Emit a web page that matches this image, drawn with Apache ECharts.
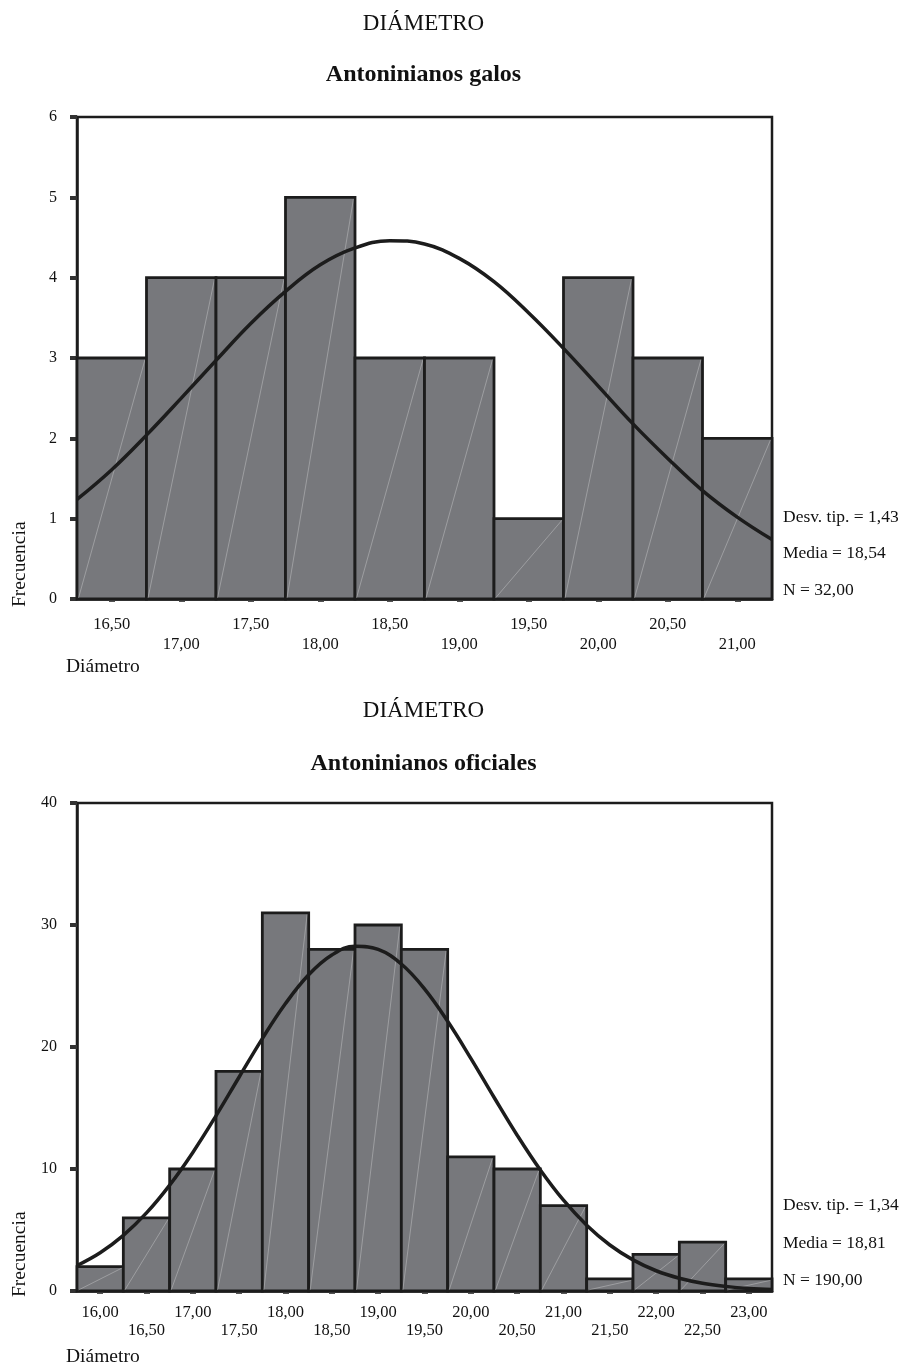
<!DOCTYPE html>
<html>
<head>
<meta charset="utf-8">
<script src="https://cdn.jsdelivr.net/npm/echarts@6/dist/echarts.min.js"></script>
<style>
  html, body { margin: 0; padding: 0; background: #fff; }
  #chart { width: 904px; height: 1369px; }
</style>
</head>
<body>
<div id="chart"></div>
<script>
// ---------- DATA ----------
// Chart 1: Antoninianos galos
const galosCenters = [16.5, 17.0, 17.5, 18.0, 18.5, 19.0, 19.5, 20.0, 20.5, 21.0];
const galosCounts  = [3, 4, 4, 5, 3, 3, 1, 4, 3, 2];
const galosCurveX  = [16.25, 16.5, 16.75, 17.0, 17.25, 17.5, 17.75, 18.0, 18.25, 18.5, 18.75,
                      19.0, 19.25, 19.5, 19.75, 20.0, 20.25, 20.5, 20.75, 21.0, 21.25];
const galosCurveY  = [1.24, 1.61, 2.04, 2.50, 2.97, 3.43, 3.83, 4.16, 4.37, 4.46, 4.42,
                      4.24, 3.95, 3.56, 3.12, 2.65, 2.18, 1.75, 1.35, 1.02, 0.74];
const galosStats   = ['Desv. tip. = 1,43', 'Media = 18,54', 'N = 32,00'];

// Chart 2: Antoninianos oficiales
const oficCenters = [16.0, 16.5, 17.0, 17.5, 18.0, 18.5, 19.0, 19.5, 20.0, 20.5, 21.0, 21.5, 22.0, 22.5, 23.0];
const oficCounts  = [2, 6, 10, 18, 31, 28, 30, 28, 11, 10, 7, 1, 3, 4, 1];
const oficCurveX  = [15.75, 16.0, 16.25, 16.5, 16.75, 17.0, 17.25, 17.5, 17.75, 18.0, 18.25, 18.5,
                     18.75, 19.0, 19.25, 19.5, 19.75, 20.0, 20.25, 20.5, 20.75, 21.0, 21.25,
                     21.5, 21.75, 22.0, 22.25, 22.5, 22.75, 23.0, 23.25];
const oficCurveY  = [2.09, 3.14, 4.56, 6.40, 8.68, 11.36, 14.36, 17.54, 20.69, 23.56, 25.92, 27.54,
                     28.26, 28.00, 26.80, 24.77, 22.11, 19.07, 15.88, 12.77, 9.92, 7.44, 5.39,
                     3.77, 2.55, 1.66, 1.05, 0.64, 0.38, 0.21, 0.12];
const oficStats   = ['Desv. tip. = 1,34', 'Media = 18,81', 'N = 190,00'];

const binWidth = 0.5;

// ---------- HELPERS ----------
const SERIF = '"Liberation Serif", "Times New Roman", serif';
const INK = '#1c1c1c';
const BAR = '#77787c';

function fmt(v) { return v.toFixed(2).replace('.', ','); }

function histData(centers, counts) {
  return centers.map((c, i) => [c - binWidth / 2, c + binWidth / 2, counts[i]]);
}

function renderBar(params, api) {
  const x0 = api.value(0), x1 = api.value(1), n = api.value(2);
  const p0 = api.coord([x0, n]);
  const p1 = api.coord([x1, 0]);
  const w = p1[0] - p0[0], h = p1[1] - p0[1];
  return {
    type: 'group',
    children: [
      { type: 'rect', shape: { x: p0[0], y: p0[1], width: w, height: h },
        style: { fill: BAR, stroke: INK, lineWidth: 2.8 } },
      { type: 'line', shape: { x1: p0[0] + 1.5, y1: p1[1] - 1, x2: p1[0] - 1.5, y2: p0[1] + 1.5 },
        style: { stroke: 'rgba(255,255,255,0.4)', lineWidth: 0.7 } }
    ]
  };
}

function xAxisFor(gridIndex, centers, min, max, margin, rowGap) {
  return {
    type: 'value', gridIndex, min, max,
    axisLine: { show: true, onZero: false, lineStyle: { color: INK, width: 2.5 } },
    splitLine: { show: false },
    axisTick: { show: true, customValues: centers, length: 3, inside: false,
                lineStyle: { color: '#555', width: 6 } },
    axisLabel: {
      customValues: centers, margin, color: '#111', fontFamily: SERIF, fontSize: 16.5,
      formatter: function (v) {
        const idx = centers.findIndex(c => Math.abs(c - v) < 1e-6);
        return idx % 2 === 0 ? '{a|' + fmt(v) + '}' : '{b|' + fmt(v) + '}';
      },
      rich: {
        a: { fontFamily: SERIF, fontSize: 16.5, color: '#111' },
        b: { fontFamily: SERIF, fontSize: 16.5, color: '#111', padding: [rowGap, 0, 0, 0] }
      }
    }
  };
}

function yAxisFor(gridIndex, max, interval) {
  return {
    type: 'value', gridIndex, min: 0, max, interval,
    axisLine: { show: true, lineStyle: { color: INK, width: 2.5 } },
    splitLine: { show: false },
    axisTick: { show: true, length: 7, lineStyle: { color: '#333', width: 4 } },
    axisLabel: { margin: 20, color: '#111', fontFamily: SERIF, fontSize: 16 }
  };
}

function txt(x, y, text, opts) {
  return {
    type: 'text', x, y, silent: true, rotation: (opts && opts.rotation) || 0,
    style: Object.assign({
      text, fill: '#111', font: '17.5px ' + SERIF, textAlign: 'left', textVerticalAlign: 'middle'
    }, (opts && opts.style) || {})
  };
}

const plotL = 77, plotR = 772;
const g1Top = 117, g1Bot = 599;
const g2Top = 803, g2Bot = 1291;
const midX = (plotL + plotR) / 2 - 1;

const graphics = [
  txt(midX, 24, 'DIÁMETRO', { style: { textAlign: 'center', font: '23px ' + SERIF } }),
  txt(midX, 75, 'Antoninianos galos', { style: { textAlign: 'center', font: 'bold 24px ' + SERIF } }),
  txt(midX, 711, 'DIÁMETRO', { style: { textAlign: 'center', font: '23px ' + SERIF } }),
  txt(midX, 764, 'Antoninianos oficiales', { style: { textAlign: 'center', font: 'bold 24px ' + SERIF } }),
  txt(20, g1Bot + 8, 'Frecuencia', { rotation: Math.PI / 2, style: { font: '19.5px ' + SERIF } }),
  txt(20, g2Bot + 6, 'Frecuencia', { rotation: Math.PI / 2, style: { font: '19.5px ' + SERIF } }),
  txt(66, 667, 'Diámetro', { style: { font: '19.5px ' + SERIF } }),
  txt(66, 1357, 'Diámetro', { style: { font: '19.5px ' + SERIF } }),
  txt(783, 517, galosStats[0]), txt(783, 553, galosStats[1]), txt(783, 590, galosStats[2]),
  txt(783, 1205, oficStats[0]), txt(783, 1243, oficStats[1]), txt(783, 1280, oficStats[2])
];

const chart = echarts.init(document.getElementById('chart'), null, { renderer: 'canvas' });
chart.setOption({
  backgroundColor: '#fff',
  animation: false,
  grid: [
    { left: plotL, right: 904 - plotR, top: g1Top, height: g1Bot - g1Top,
      show: true, borderColor: INK, borderWidth: 2.5, backgroundColor: 'transparent' },
    { left: plotL, right: 904 - plotR, top: g2Top, height: g2Bot - g2Top,
      show: true, borderColor: INK, borderWidth: 2.5, backgroundColor: 'transparent' }
  ],
  xAxis: [
    xAxisFor(0, galosCenters, 16.25, 21.25, 17, 20),
    xAxisFor(1, oficCenters, 15.75, 23.25, 13, 18)
  ],
  yAxis: [
    yAxisFor(0, 6, 1),
    yAxisFor(1, 40, 10)
  ],
  series: [
    { type: 'custom', xAxisIndex: 0, yAxisIndex: 0, renderItem: renderBar,
      data: histData(galosCenters, galosCounts), encode: { x: [0, 1], y: 2 }, z: 2 },
    { type: 'line', xAxisIndex: 0, yAxisIndex: 0, smooth: 0.4, showSymbol: false,
      data: galosCurveX.map((x, i) => [x, galosCurveY[i]]),
      lineStyle: { color: INK, width: 3.5 }, z: 5, clip: true },
    { type: 'custom', xAxisIndex: 1, yAxisIndex: 1, renderItem: renderBar,
      data: histData(oficCenters, oficCounts), encode: { x: [0, 1], y: 2 }, z: 2 },
    { type: 'line', xAxisIndex: 1, yAxisIndex: 1, smooth: 0.4, showSymbol: false,
      data: oficCurveX.map((x, i) => [x, oficCurveY[i]]),
      lineStyle: { color: INK, width: 3.5 }, z: 5, clip: true }
  ],
  graphic: graphics
});
</script>
</body>
</html>
